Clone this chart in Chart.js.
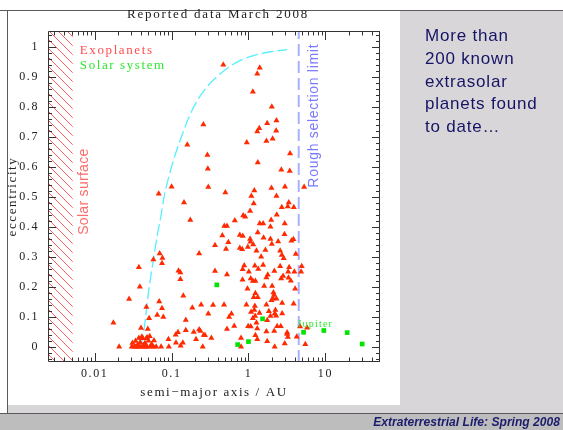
<!DOCTYPE html>
<html>
<head>
<meta charset="utf-8">
<title>Reported data March 2008</title>
<script src="https://cdn.jsdelivr.net/npm/chart.js@4.4.1/dist/chart.umd.min.js"></script>
<style>
  body { margin: 0; }
  #slide { position: relative; width: 563px; height: 430px; background: #fff; overflow: hidden; font-family: "Liberation Sans", Arial, sans-serif; }
  .abs { position: absolute; }
  #side { left: 400px; top: 11px; width: 163px; height: 394px; background: #d9d6d9; }
  #band { left: 8px; top: 405px; width: 555px; height: 8px; background: #d9d6d9; }
  #topline { left: 0; top: 10px; width: 563px; height: 1px; background: #5a5a5a; }
  #leftline { left: 7px; top: 10px; width: 1px; height: 404px; background: #5a5a5a; }
  #footline { left: 0; top: 413px; width: 563px; height: 1px; background: #5a5a5a; }
  #foot { left: 0; top: 414px; width: 563px; height: 16px; background: #bebdbe; }
  #footText { right: 3px; top: 414px; font-size: 12.1px; line-height: 16px; font-weight: bold; font-style: italic; color: #1c1c6c; }
  #plot { left: 0; top: 0; }
  #title { left: 118px; width: 200px; top: 7px; text-align: center; font: 13px/13px "Liberation Serif", serif; letter-spacing: 1.8px; color: #222; }
  #note { left: 425px; top: 25px; font-size: 17px; line-height: 22.8px; letter-spacing: 0.8px; color: #141464; }
</style>
</head>
<body>
<div id="slide">
  <div id="side" class="abs"></div>
  <div id="band" class="abs"></div>
  <div id="foot" class="abs"></div>
  <div id="footline" class="abs"></div>
  <div id="topline" class="abs"></div>
  <div id="leftline" class="abs"></div>
  <canvas id="plot" class="abs" width="563" height="430"></canvas>
  <div id="title" class="abs">Reported data March 2008</div>
  <div id="note" class="abs">More than<br>200 known<br>extrasolar<br>planets found<br>to date…</div>
  <div id="footText" class="abs">Extraterrestrial Life: Spring 2008</div>
</div>
<script>
// exoplanets: semi-major axis (AU) / eccentricity
const exoA = [
  // e > 0.5
  0.47, 1.40, 1.30, 1.14, 2.01, 2.31, 1.75, 1.38, 1.30, 2.29, 2.06, 1.71, 0.95, 0.259, 0.160, 0.292,
  3.47, 1.32, 0.296, 2.67, 3.44, 0.30, 0.10, 0.068, 0.50, 1.19, 1.09, 1.99, 2.31, 2.98, 5.29,
  // 0.3 - 0.5
  0.145, 0.175, 1.17, 3.34, 2.71, 3.24, 3.88, 1.05, 2.33, 0.853, 0.906, 0.664, 1.97, 0.485, 0.525, 1.40,
  1.55, 2.96, 1.93, 1.32, 0.457, 0.771, 0.843, 2.94, 1.05, 1.06, 1.57, 1.93, 2.43, 3.62, 3.84, 0.367,
  0.547, 1.15, 0.98, 0.771, 0.828, 0.51, 2.01, 1.27, 1.66, 2.58, 2.71, 2.87, 4.12, 1.46, 0.228,
  // short periods
  0.070, 0.076, 0.075, 0.058, 0.0375, 0.123, 0.130, 0.130, 0.0386, 0.142, 0.028, 0.069, 0.075, 0.047,
  0.186, 0.242, 0.065, 0.078, 0.051, 0.0175, 0.153, 0.040, 0.049, 0.121, 0.113, 0.153, 0.194, 0.228,
  0.237, 0.262, 0.208, 0.091, 0.059, 0.0375, 0.048, 0.114, 0.140, 0.131,
  // circular row
  0.0208, 0.0304, 0.0336, 0.0367, 0.040, 0.044, 0.048, 0.0526, 0.063, 0.073, 0.092, 0.254,
  // hot jupiter pile-up
  0.031, 0.034, 0.039, 0.042, 0.045, 0.050, 0.055, 0.043, 0.047, 0.036, 0.041, 0.052, 0.033, 0.038, 0.046, 0.058,
  // wide orbits, low e
  0.346, 0.481, 0.94, 1.21, 1.71, 0.30, 0.60, 1.08, 1.19, 1.39, 2.24, 2.19, 2.29, 1.84, 0.56, 1.22,
  1.93, 2.74, 1.14, 1.27, 1.75, 0.99, 1.07, 0.652, 0.525, 1.30, 1.71, 2.36, 2.63, 3.18, 4.69, 5.78,
  0.272, 0.329, 0.80, 1.23, 2.16, 3.25, 3.18, 4.24, 1.30, 1.75, 2.96, 2.19, 0.80, 5.48,
  // wide orbits, e 0.14 - 0.28
  0.836, 0.88, 0.84, 1.21, 1.55, 1.34, 1.01, 2.58, 3.38, 4.92, 0.367, 0.525, 2.17, 3.28, 3.95, 4.83,
  1.78, 1.71, 2.82, 2.66, 3.31, 3.55, 1.07, 1.14, 1.23, 1.6, 2.03, 0.97, 4.04, 1.23, 1.17, 1.32,
  2.11, 2.15, 2.09, 1.99, 2.31, 2.74, 3.86
];
const exoE = [
  0.94, 0.93, 0.91, 0.85, 0.80, 0.754, 0.745, 0.728, 0.717, 0.72, 0.693, 0.686, 0.681, 0.741, 0.673, 0.639,
  0.644, 0.614, 0.593, 0.59, 0.586, 0.532, 0.533, 0.51, 0.514, 0.521, 0.502, 0.529, 0.502, 0.533, 0.532,

  0.481, 0.422, 0.477, 0.481, 0.465, 0.467, 0.465, 0.452, 0.44, 0.437, 0.433, 0.421, 0.422, 0.402, 0.402, 0.411,
  0.411, 0.411, 0.40, 0.381, 0.371, 0.372, 0.369, 0.375, 0.359, 0.35, 0.363, 0.359, 0.351, 0.353, 0.358, 0.338,
  0.348, 0.341, 0.332, 0.329, 0.325, 0.326, 0.342, 0.32, 0.322, 0.32, 0.306, 0.295, 0.309, 0.30, 0.311,

  0.311, 0.296, 0.278, 0.291, 0.265, 0.253, 0.247, 0.225, 0.20, 0.17, 0.159, 0.151, 0.128, 0.132,
  0.13, 0.14, 0.106, 0.099, 0.095, 0.08, 0.089, 0.062, 0.059, 0.048, 0.04, 0.055, 0.049, 0.057,
  0.052, 0.039, 0.025, 0.025, 0.021, 0.029, 0.031, 0.013, 0.013, 0.003,

  0, 0, 0, 0, 0, 0, 0, 0, 0, 0, 0, 0,

  0.012, 0.019, 0.015, 0.028, 0.012, 0.02, 0.008, 0.005, 0.028, 0.006, 0.033, 0.035, 0, 0, 0, 0,

  0.139, 0.14, 0.14, 0.136, 0.14, 0.11, 0.11, 0.116, 0.122, 0.112, 0.122, 0.11, 0.103, 0.118, 0.099, 0.102,
  0.102, 0.111, 0.095, 0.08, 0.088, 0.068, 0.067, 0.069, 0.059, 0.061, 0.051, 0.068, 0.068, 0.047, 0.067, 0.063,
  0.038, 0.029, 0.029, 0.038, 0.052, 0.032, 0.042, 0.033, 0.025, 0.018, 0.011, 0, 0, 0.008,

  0.223, 0.271, 0.258, 0.27, 0.272, 0.259, 0.25, 0.268, 0.265, 0.268, 0.252, 0.241, 0.252, 0.25, 0.25, 0.25,
  0.24, 0.231, 0.236, 0.227, 0.23, 0.22, 0.227, 0.219, 0.219, 0.202, 0.202, 0.193, 0.193, 0.178, 0.165, 0.165,
  0.181, 0.172, 0.161, 0.155, 0.16, 0.146, 0.143
];

const solarNames = ['Mercury', 'Venus', 'Earth', 'Mars', 'Jupiter', 'Saturn', 'Uranus', 'Neptune'];
const solarA = [0.387, 0.723, 1.0, 1.524, 5.2, 9.54, 19.2, 30.1];
const solarE = [0.206, 0.007, 0.017, 0.093, 0.048, 0.054, 0.047, 0.009];

// cyan dashed boundary
const curveA = [0.040, 0.044, 0.050, 0.058, 0.066, 0.072, 0.08, 0.10, 0.13, 0.186, 0.276, 0.455, 0.75, 1.23, 2.03, 3.2];
const curveE = [0.0, 0.06, 0.18, 0.29, 0.38, 0.43, 0.50, 0.60, 0.69, 0.79, 0.86, 0.915, 0.952, 0.972, 0.984, 0.99];

const solarSurfaceAU = 0.0052;
const selectionLimitAU = 4.5;

const xTickValues = [0.01, 0.1, 1, 10];
const xTickLabels = ['0.01', '0.1', '1', '10'];
const yTickLabels = ['0', '0.1', '0.2', '0.3', '0.4', '0.5', '0.6', '0.7', '0.8', '0.9', '1'];

const X_MIN = 0.00247, X_MAX = 51.3;
const Y_MIN = -0.051, Y_MAX = 1.0523;

const serif = "'Liberation Serif', 'Times New Roman', serif";
const sans = "'Liberation Sans', Arial, sans-serif";

// hatch for the solar surface band
const hatch = document.createElement('canvas');
hatch.width = hatch.height = 9;
const hc = hatch.getContext('2d');
hc.strokeStyle = '#ff6060';
hc.lineWidth = 1;
hc.beginPath();
hc.moveTo(0, 0); hc.lineTo(9, 9);
hc.moveTo(-1, 8); hc.lineTo(1, 10);
hc.moveTo(8, -1); hc.lineTo(10, 1);
hc.stroke();

const canvas = document.getElementById('plot');
const hatchPattern = canvas.getContext('2d').createPattern(hatch, 'repeat');

// PGPLOT-ish wide lettering for the chart text
const wideText = {
    id: 'wideText',
    beforeDraw(chart) {
        chart.ctx.letterSpacing = '1.6px';
    }
};

// frame with inward ticks on all four sides, plus the labels inside the plot
const frameAndLabels = {
    id: 'frameAndLabels',
    afterDatasetsDraw(chart) {
        const { ctx, chartArea: ca, scales: { x, y } } = chart;
        ctx.save();
        ctx.strokeStyle = '#333';
        ctx.lineWidth = 1;
        ctx.beginPath();
        ctx.rect(ca.left + 0.5, ca.top + 0.5, ca.right - ca.left - 1, ca.bottom - ca.top - 1);
        x.ticks.forEach(t => {
            const px = Math.round(x.getPixelForValue(t.value)) + 0.5;
            const len = t.major ? 9 : 4.5;
            ctx.moveTo(px, ca.bottom); ctx.lineTo(px, ca.bottom - len);
            ctx.moveTo(px, ca.top); ctx.lineTo(px, ca.top + len);
        });
        y.ticks.forEach(t => {
            const py = Math.round(y.getPixelForValue(t.value)) + 0.5;
            const len = t.major ? 8 : 4;
            ctx.moveTo(ca.left, py); ctx.lineTo(ca.left + len, py);
            ctx.moveTo(ca.right, py); ctx.lineTo(ca.right - len, py);
        });
        ctx.stroke();

        ctx.textBaseline = 'middle';
        ctx.textAlign = 'left';
        ctx.letterSpacing = '1.6px';
        ctx.font = '13px ' + serif;
        ctx.fillStyle = '#ff4c4c';
        ctx.fillText('Exoplanets', x.getPixelForValue(0.0064), y.getPixelForValue(0.986));
        ctx.fillStyle = '#2ee82e';
        ctx.fillText('Solar system', x.getPixelForValue(0.0064), y.getPixelForValue(0.936));
        ctx.font = '10px ' + serif;
        ctx.letterSpacing = '1.2px';
        ctx.fillText('Jupiter', x.getPixelForValue(4.33), y.getPixelForValue(0.076));

        const rotated = (text, a, e, color, font, spacing) => {
            ctx.save();
            ctx.translate(x.getPixelForValue(a), y.getPixelForValue(e));
            ctx.rotate(-Math.PI / 2);
            ctx.textAlign = 'center';
            ctx.font = font;
            ctx.letterSpacing = spacing;
            ctx.fillStyle = color;
            ctx.fillText(text, 0, 0);
            ctx.restore();
        };
        rotated('Solar surface', 0.0072, 0.517, '#ff6a6a', '14px ' + sans, '0.3px');
        rotated('Rough selection limit', 7.2, 0.77, '#7a7aff', '14px ' + sans, '0.7px');
        ctx.restore();
    }
};

new Chart(canvas, {
    type: 'scatter',
    data: {
        datasets: [
            {
                label: 'Solar system',
                order: 0,
                data: solarA.map((a, i) => ({ x: a, y: solarE[i], name: solarNames[i] })),
                pointStyle: 'rect',
                pointRadius: 3.3,
                backgroundColor: '#00e400',
                borderWidth: 0
            },
            {
                label: 'Exoplanets',
                order: 1,
                data: exoA.map((a, i) => ({ x: a, y: exoE[i] })),
                pointStyle: 'triangle',
                pointRadius: 3.5,
                backgroundColor: '#ff2a00',
                borderWidth: 0
            },
            {
                type: 'line',
                label: 'Rough selection limit',
                order: 2,
                data: [{ x: selectionLimitAU, y: Y_MIN }, { x: selectionLimitAU, y: Y_MAX }],
                borderColor: '#aab0ff',
                borderWidth: 2,
                borderDash: [12, 5],
                pointRadius: 0,
                fill: false
            },
            {
                type: 'line',
                label: 'boundary',
                order: 3,
                data: curveA.map((a, i) => ({ x: a, y: curveE[i] })),
                borderColor: '#55f0ff',
                borderWidth: 1.3,
                borderDash: [12, 4],
                pointRadius: 0,
                cubicInterpolationMode: 'monotone',
                fill: false
            },
            {
                type: 'line',
                label: 'Solar surface',
                order: 4,
                data: [{ x: X_MIN, y: Y_MAX }, { x: solarSurfaceAU, y: Y_MAX }],
                borderWidth: 0,
                pointRadius: 0,
                backgroundColor: hatchPattern,
                fill: 'start'
            }
        ]
    },
    options: {
        responsive: false,
        animation: false,
        layout: { padding: { left: 0, top: 31, right: 183, bottom: 23 } },
        plugins: {
            legend: { display: false },
            tooltip: { enabled: false }
        },
        scales: {
            x: {
                type: 'logarithmic',
                min: X_MIN,
                max: X_MAX,
                grid: { display: false, drawTicks: false },
                border: { display: false },
                afterBuildTicks: scale => {
                    const ticks = [];
                    for (let exp = -3; exp <= 1; exp++) {
                        for (let m = 1; m <= 9; m++) {
                            const v = m * Math.pow(10, exp);
                            if (v >= X_MIN && v <= X_MAX) ticks.push({ value: v, major: m === 1 });
                        }
                    }
                    scale.ticks = ticks;
                },
                afterFit: scale => { scale.height = 45; },
                ticks: {
                    autoSkip: false,
                    maxRotation: 0,
                    padding: 5,
                    color: '#222',
                    font: { family: serif, size: 12 },
                    callback: function (value) {
                        const i = xTickValues.findIndex(v => Math.abs(Math.log10(value / v)) < 1e-6);
                        return i >= 0 ? xTickLabels[i] : '';
                    }
                },
                title: {
                    display: true,
                    text: 'semi\u2212major axis / AU',
                    color: '#222',
                    font: { family: serif, size: 13 },
                    padding: { top: 0, bottom: 7 }
                }
            },
            y: {
                type: 'linear',
                min: Y_MIN,
                max: Y_MAX,
                grid: { display: false, drawTicks: false },
                border: { display: false },
                afterBuildTicks: scale => {
                    const ticks = [];
                    for (let i = -2; i <= 52; i++) ticks.push({ value: i / 50, major: i % 5 === 0 });
                    scale.ticks = ticks;
                },
                afterFit: scale => { scale.width = 48; },
                ticks: {
                    autoSkip: false,
                    padding: 9,
                    color: '#222',
                    font: { family: serif, size: 12 },
                    callback: function (value) {
                        const k = Math.round(value * 10);
                        if (Math.abs(value * 10 - k) < 1e-6 && k >= 0 && k <= 10) return yTickLabels[k];
                        return '';
                    }
                },
                title: {
                    display: true,
                    text: 'eccentricity',
                    color: '#222',
                    font: { family: serif, size: 13 },
                    padding: { top: 5, bottom: 0 }
                }
            }
        }
    },
    plugins: [wideText, frameAndLabels]
});
</script>
</body>
</html>
